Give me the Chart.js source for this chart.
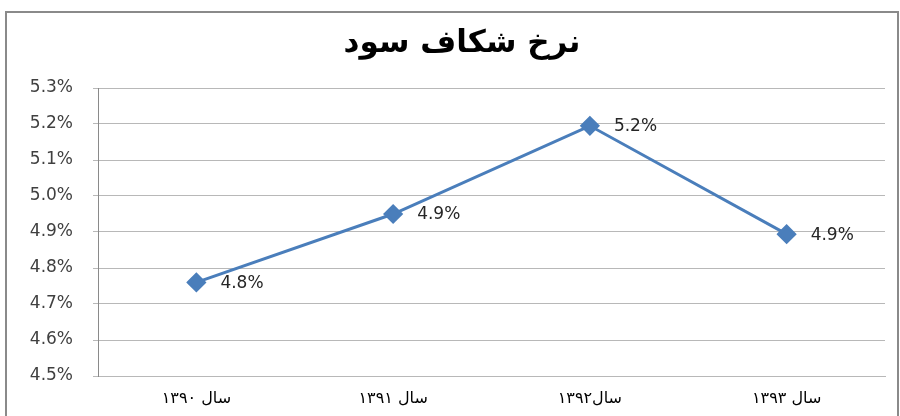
<!DOCTYPE html>
<html>
<head>
<meta charset="utf-8">
<script src="https://cdn.jsdelivr.net/npm/chart.js@4/dist/chart.umd.min.js"></script>
<style>
  html, body { margin: 0; padding: 0; background: #fff; }
  #wrap { position: relative; width: 900px; height: 416px; overflow: hidden; }
  #frame {
    position: absolute; left: 5px; top: 11px; width: 894px; height: 420px;
    border: 2px solid #8a8a8a; box-sizing: border-box; pointer-events: none;
  }
  canvas { position: absolute; left: 0; top: 0; }
</style>
</head>
<body>
<div id="wrap">
  <canvas id="chart" width="900" height="416"></canvas>
  <div id="frame"></div>
</div>
<script>
/* داده‌ها */
const TITLE = "نرخ شکاف سود";
const YEARS = ["سال ۱۳۹۰", "سال ۱۳۹۱", "سال۱۳۹۲", "سال ۱۳۹۳"];
const RATES = [4.76, 4.95, 5.195, 4.894];
const RATE_LABELS = ["4.8%", "4.9%", "5.2%", "4.9%"];
const Y_MIN = 4.5;
const Y_MAX = 5.3;
const Y_STEP = 0.1;

const BLUE = "#4a7ebb";
const GRID = "#b8b8b8";
const FONT = "'DejaVu Sans', sans-serif";

/* عنوان نمودار (کمی راست‌تر از وسط، مثل اصل) */
const titleDraw = {
    id: "titleDraw",
    afterDraw(chart) {
        const ctx = chart.ctx;
        ctx.save();
        ctx.font = "bold 31px " + FONT;
        ctx.fillStyle = "#000";
        ctx.textAlign = "center";
        ctx.textBaseline = "middle";
        ctx.fillText(TITLE, 462, 44);
        ctx.restore();
    }
};

/* برچسب مقدار کنار هر نقطه */
const valueLabels = {
    id: "valueLabels",
    afterDatasetsDraw(chart) {
        const ctx = chart.ctx;
        const meta = chart.getDatasetMeta(0);
        ctx.save();
        ctx.font = "17px " + FONT;
        ctx.fillStyle = "#262626";
        ctx.textAlign = "left";
        ctx.textBaseline = "middle";
        meta.data.forEach((pt, i) => {
            ctx.fillText(RATE_LABELS[i], pt.x + 24, pt.y + 1);
        });
        ctx.restore();
    }
};

new Chart(document.getElementById("chart"), {
    type: "line",
    data: {
        labels: YEARS,
        datasets: [{
            data: RATES,
            borderColor: BLUE,
            backgroundColor: BLUE,
            borderWidth: 3,
            pointStyle: "rectRot",
            pointRadius: 8,
            pointHoverRadius: 8,
            tension: 0
        }]
    },
    options: {
        responsive: false,
        animation: false,
        layout: { padding: { left: 10, right: 15, top: 88, bottom: 0 } },
        plugins: {
            legend: { display: false },
            tooltip: { enabled: false },
            title: { display: false }
        },
        scales: {
            x: {
                offset: true,
                grid: { display: true, drawOnChartArea: false, drawTicks: false, color: GRID },
                border: { display: true, color: GRID, width: 1 },
                ticks: {
                    color: "#000",
                    font: { family: FONT, size: 16 },
                    padding: 13,
                    maxRotation: 0
                },
                afterFit(scale) { scale.height = 40; }
            },
            y: {
                min: Y_MIN,
                max: Y_MAX,
                grid: { color: GRID, lineWidth: 1, tickLength: 5 },
                border: { display: true, color: "#8a8a8a", width: 1 },
                ticks: {
                    stepSize: Y_STEP,
                    color: "#404040",
                    font: { family: FONT, size: 17 },
                    padding: 20,
                    callback: v => v.toFixed(1) + "%"
                },
                afterFit(scale) { scale.width = 88; }
            }
        }
    },
    plugins: [valueLabels, titleDraw]
});
</script>
</body>
</html>
